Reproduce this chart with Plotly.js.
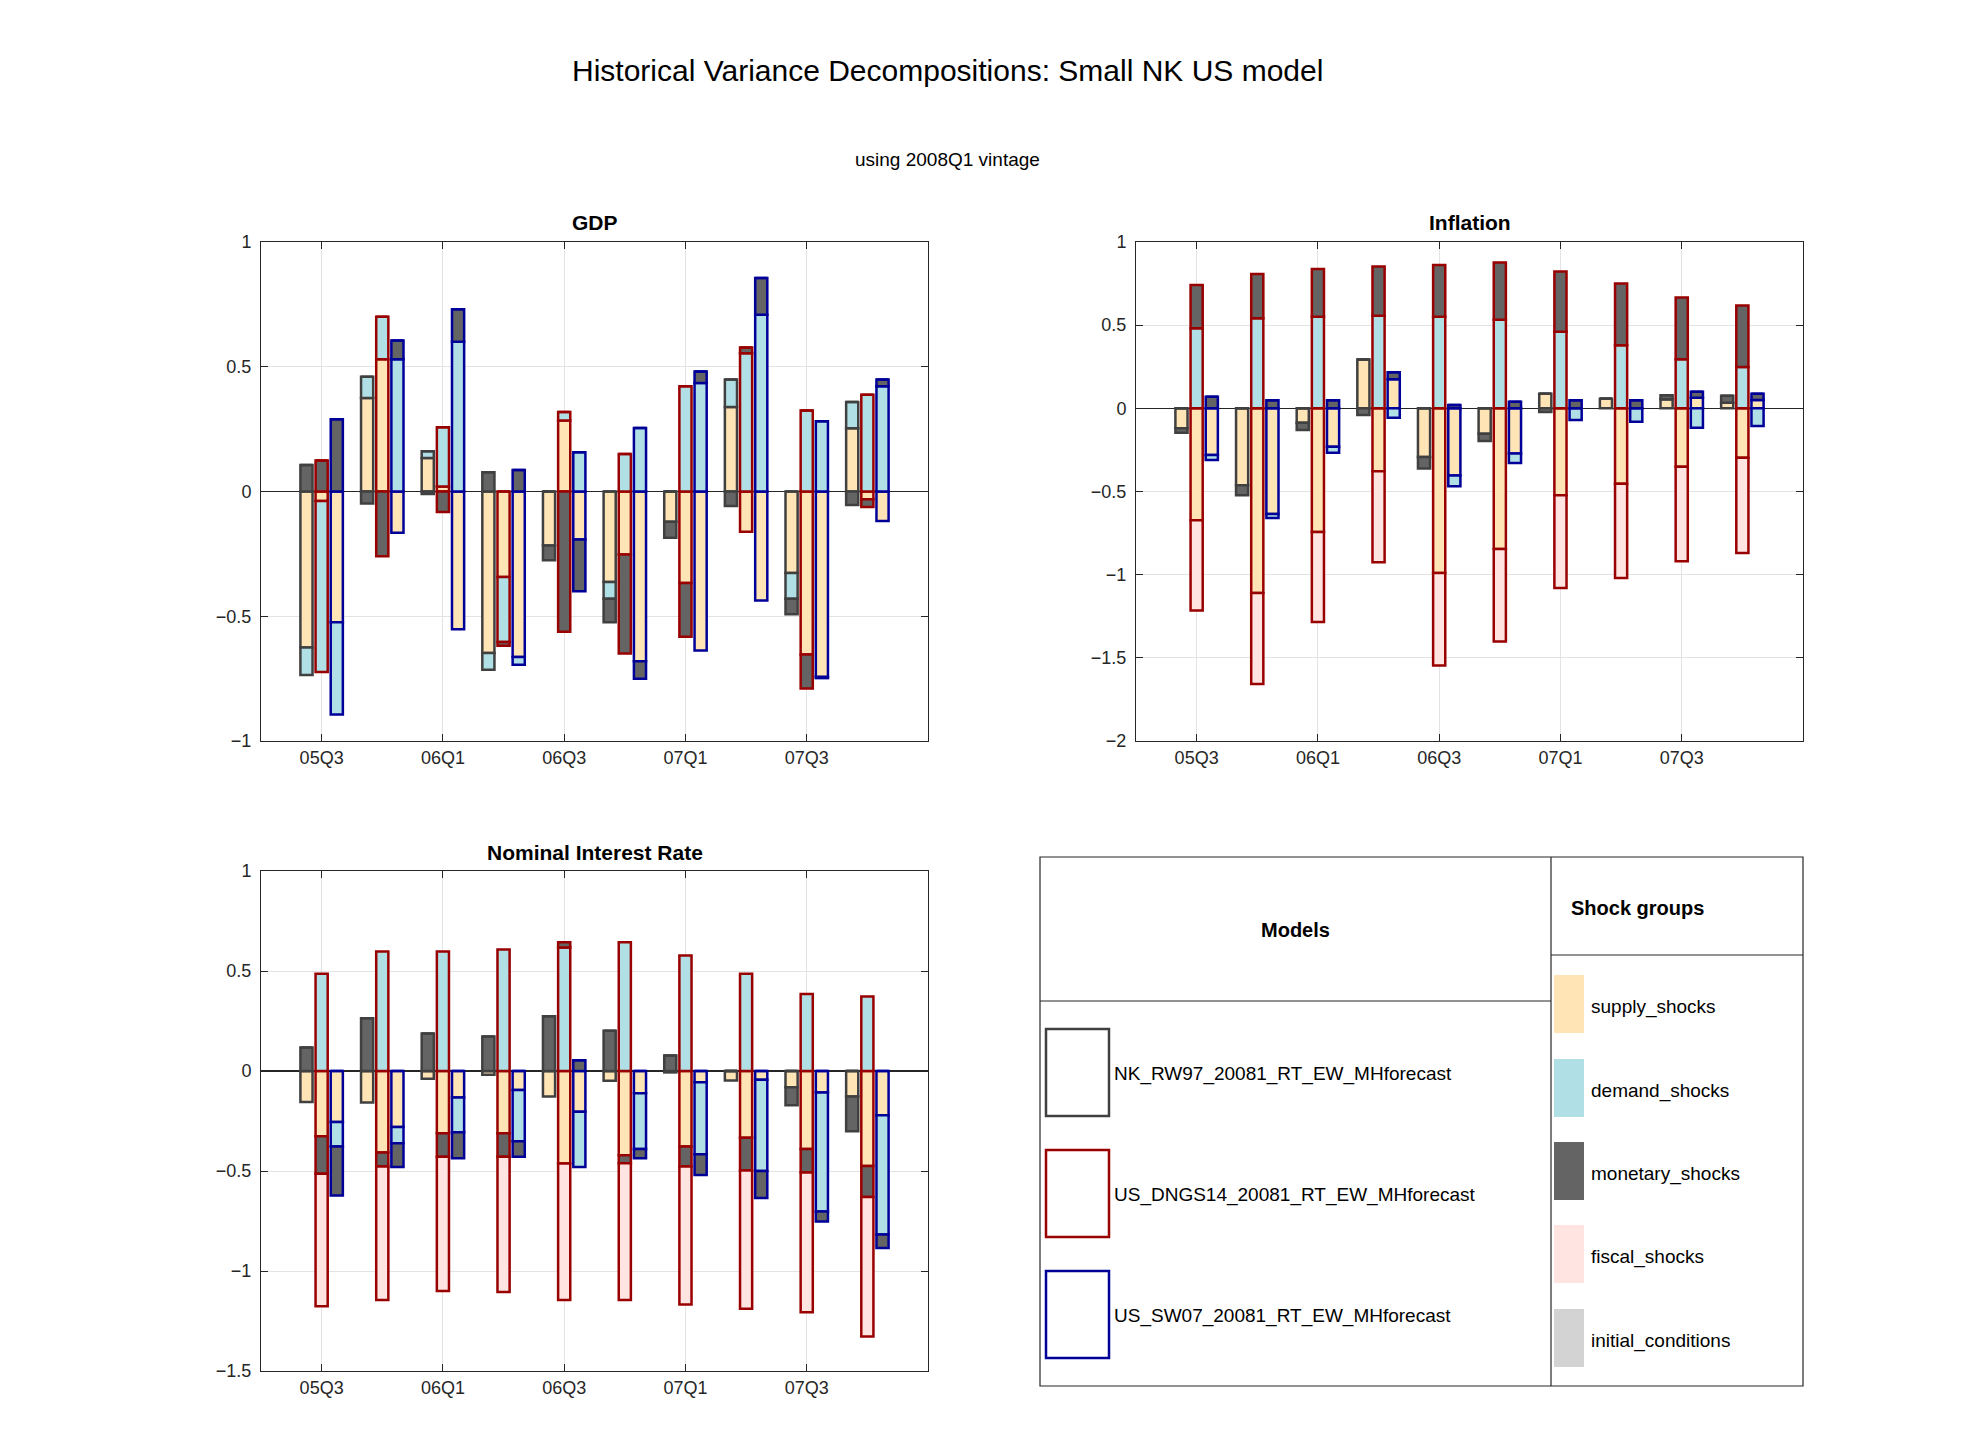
<!DOCTYPE html>
<html>
<head>
<meta charset="utf-8">
<script src="https://cdn.plot.ly/plotly-3.0.1.min.js"></script>
<style>body{margin:0;background:#fff}#myDiv{width:1975px;height:1456px}</style>
</head>
<body>
<div id="myDiv"></div>
<script>
var periods = [1, 2, 3, 4, 5, 6, 7, 8, 9, 10];
var tickVals = [1, 3, 5, 7, 9];
var tickText = ['05Q3', '06Q1', '06Q3', '07Q1', '07Q3'];

var models = ['NK_RW97_20081_RT_EW_MHforecast', 'US_DNGS14_20081_RT_EW_MHforecast', 'US_SW07_20081_RT_EW_MHforecast'];
var shocks = ['supply_shocks', 'demand_shocks', 'monetary_shocks', 'fiscal_shocks', 'initial_conditions'];

// GDP: [model][shock][period]
var gdpNK_supply   = [-0.625, 0.375, 0.134, -0.647, -0.216, -0.363, -0.121, 0.339, -0.327, 0.254];
var gdpNK_demand   = [-0.11, 0.085, 0.027, -0.067, 0, -0.067, 0, 0.11, -0.103, 0.105];
var gdpNK_monetary = [0.106, -0.048, -0.01, 0.077, -0.06, -0.094, -0.064, -0.058, -0.062, -0.054];
var gdpDN_supply   = [-0.038, 0.53, 0.02, -0.343, 0.285, -0.253, -0.367, -0.161, -0.653, -0.031];
var gdpDN_demand   = [-0.685, 0.17, 0.238, -0.26, 0.034, 0.15, 0.422, 0.554, 0.325, 0.388];
var gdpDN_monetary = [0.124, -0.26, -0.082, -0.015, -0.562, -0.396, -0.215, 0.023, -0.137, -0.031];
var gdpSW_supply   = [-0.524, -0.165, -0.552, -0.663, -0.192, -0.68, -0.637, -0.437, -0.743, -0.118];
var gdpSW_demand   = [-0.37, 0.53, 0.60, -0.031, 0.157, 0.255, 0.435, 0.708, 0.282, 0.422];
var gdpSW_monetary = [0.29, 0.075, 0.13, 0.086, -0.208, -0.07, 0.046, 0.148, -0.005, 0.027];

// Inflation
var infNK_supply   = [-0.12, -0.462, -0.086, 0.293, -0.293, -0.153, 0.088, 0.058, 0.054, 0.034];
var infNK_demand   = [0, 0, 0, 0, 0, 0, 0, 0, 0, 0];
var infNK_monetary = [-0.027, -0.06, -0.044, -0.04, -0.068, -0.044, -0.022, 0, 0.024, 0.042];
var infDN_supply   = [-0.673, -1.11, -0.743, -0.378, -0.99, -0.845, -0.522, -0.454, -0.351, -0.297];
var infDN_demand   = [0.482, 0.542, 0.55, 0.556, 0.55, 0.532, 0.46, 0.38, 0.295, 0.249];
var infDN_monetary = [0.259, 0.265, 0.287, 0.297, 0.311, 0.345, 0.363, 0.371, 0.372, 0.369];
var infDN_fiscal   = [-0.542, -0.547, -0.542, -0.548, -0.556, -0.557, -0.558, -0.566, -0.569, -0.573];
var infSW_supply   = [-0.281, -0.635, -0.231, 0.175, -0.404, -0.271, 0, 0, 0.064, 0.05];
var infSW_demand   = [-0.03, -0.024, -0.036, -0.056, -0.064, -0.058, -0.07, -0.08, -0.116, -0.106];
var infSW_monetary = [0.07, 0.048, 0.048, 0.042, 0.02, 0.04, 0.048, 0.048, 0.036, 0.038];

// Nominal interest rate
var intNK_supply   = [-0.155, -0.157, -0.039, -0.019, -0.128, -0.049, -0.007, -0.047, -0.081, -0.128];
var intNK_monetary = [0.117, 0.264, 0.188, 0.172, 0.274, 0.201, 0.078, 0, -0.09, -0.173];
var intDN_supply   = [-0.326, -0.407, -0.311, -0.311, -0.463, -0.421, -0.377, -0.334, -0.39, -0.475];
var intDN_demand   = [0.486, 0.598, 0.598, 0.608, 0.618, 0.644, 0.578, 0.486, 0.385, 0.373];
var intDN_monetary = [-0.188, -0.071, -0.118, -0.118, 0.026, -0.04, -0.101, -0.163, -0.118, -0.155];
var intDN_fiscal   = [-0.662, -0.667, -0.671, -0.676, -0.682, -0.684, -0.689, -0.692, -0.698, -0.698];
var intSW_supply   = [-0.255, -0.28, -0.133, -0.095, -0.204, -0.111, -0.056, -0.044, -0.108, -0.221];
var intSW_demand   = [-0.122, -0.081, -0.173, -0.256, -0.276, -0.279, -0.36, -0.456, -0.595, -0.597];
var intSW_monetary = [-0.245, -0.119, -0.13, -0.078, 0.054, -0.046, -0.104, -0.135, -0.05, -0.067];

var zeros = [0, 0, 0, 0, 0, 0, 0, 0, 0, 0];

var shockFill = ['#FFE4B5', '#B0E0E6', '#646464', '#FFE4E1', '#D3D3D3'];
var modelLine = ['#404040', '#990000', '#000099'];
var modelOffset = [-0.25, 0, 0.25];

var panels = [
	{ax: '', data: [
		[gdpNK_supply, gdpNK_demand, gdpNK_monetary, zeros],
		[gdpDN_supply, gdpDN_demand, gdpDN_monetary, zeros],
		[gdpSW_supply, gdpSW_demand, gdpSW_monetary, zeros]]},
	{ax: '2', data: [
		[infNK_supply, infNK_demand, infNK_monetary, zeros],
		[infDN_supply, infDN_demand, infDN_monetary, infDN_fiscal],
		[infSW_supply, infSW_demand, infSW_monetary, zeros]]},
	{ax: '3', data: [
		[intNK_supply, zeros, intNK_monetary, zeros],
		[intDN_supply, intDN_demand, intDN_monetary, intDN_fiscal],
		[intSW_supply, intSW_demand, intSW_monetary, zeros]]}
];

var data = [];
panels.forEach(function (p) {
	p.data.forEach(function (series, m) {
		series.forEach(function (vals, s) {
			data.push({
				type: 'bar',
				x: periods.map(function (t) { return t + modelOffset[m]; }),
				y: vals,
				width: 0.2,
				xaxis: 'x' + p.ax, yaxis: 'y' + p.ax,
				marker: {color: shockFill[s], line: {color: modelLine[m], width: 2.5}},
				showlegend: false, hoverinfo: 'skip'
			});
		});
	});
});

var W = 1975, H = 1456;
function px(x) { return x / W; }
function py(y) { return 1 - y / H; }

function xax(dom) {
	return {domain: dom, range: [0, 11], tickvals: tickVals, ticktext: tickText,
		ticks: 'inside', ticklen: 7, tickcolor: '#262626', showgrid: true, gridcolor: '#e3e3e3',
		showline: true, linecolor: '#262626', mirror: 'ticks', zeroline: false,
		tickfont: {size: 18, color: '#262626'}};
}
function yax(dom, rng, dt) {
	return {domain: dom, range: rng, dtick: dt, ticks: 'inside', ticklen: 7, tickcolor: '#262626',
		showgrid: true, gridcolor: '#e3e3e3', showline: true, linecolor: '#262626', mirror: 'ticks',
		zeroline: true, zerolinecolor: '#262626', zerolinewidth: 1.5,
		tickfont: {size: 18, color: '#262626'}, ticksuffix: ' '};
}

var shapes = [];
var annotations = [];
function box(x0, y0, x1, y1, fill, line, lw) {
	shapes.push({type: 'rect', xref: 'paper', yref: 'paper', x0: px(x0), x1: px(x1), y0: py(y1), y1: py(y0),
		fillcolor: fill, line: {color: line, width: lw}});
}
function hline(x0, x1, y) {
	shapes.push({type: 'line', xref: 'paper', yref: 'paper', x0: px(x0), x1: px(x1), y0: py(y), y1: py(y), line: {color: '#262626', width: 1.2}});
}
function vline(x, y0, y1) {
	shapes.push({type: 'line', xref: 'paper', yref: 'paper', x0: px(x), x1: px(x), y0: py(y0), y1: py(y1), line: {color: '#262626', width: 1.2}});
}
function text(x, y, t, size, bold, anchor) {
	annotations.push({xref: 'paper', yref: 'paper', x: px(x), y: py(y), text: bold ? '<b>' + t + '</b>' : t,
		showarrow: false, xanchor: anchor || 'center', yanchor: 'middle', font: {size: size, color: '#000'}});
}

// legend table
box(1040, 857, 1803, 1386, 'rgba(0,0,0,0)', '#262626', 1.2);
vline(1551, 857, 1386);
hline(1040, 1551, 1001);
hline(1551, 1803, 955);
text(1295, 930, 'Models', 20, true);
text(1569, 908, 'Shock groups', 20, true, 'left');
var modelY = [1029, 1150, 1271];
models.forEach(function (m, i) {
	box(1046, modelY[i], 1109, modelY[i] + 87, 'rgba(0,0,0,0)', modelLine[i], 2.5);
	text(1112, modelY[i] + 45, m, 19, false, 'left');
});
var shockY = [975, 1059, 1142, 1225, 1309];
shocks.forEach(function (s, i) {
	box(1554, shockY[i], 1584, shockY[i] + 58, shockFill[i], shockFill[i], 0);
	text(1589, shockY[i] + 32, s, 19, false, 'left');
});

text(947, 70, 'Historical Variance Decompositions: Small NK US model', 30, false);
text(947, 159, 'using 2008Q1 vintage', 19, false);
text(595, 222, 'GDP', 21, true);
text(1470, 222, 'Inflation', 21, true);
text(595, 852, 'Nominal Interest Rate', 21, true);

var layout = {
	width: W, height: H,
	margin: {l: 0, r: 0, t: 0, b: 0},
	paper_bgcolor: '#fff', plot_bgcolor: '#fff',
	font: {family: 'Liberation Sans, Arial, sans-serif', color: '#262626'},
	barmode: 'relative',
	xaxis: xax([px(261), px(928)]),
	yaxis: yax([py(741), py(242)], [-1, 1], 0.5),
	xaxis2: xax([px(1136), px(1803)]),
	yaxis2: yax([py(741), py(242)], [-2, 1], 0.5),
	xaxis3: xax([px(261), px(928)]),
	yaxis3: yax([py(1371), py(871)], [-1.5, 1], 0.5),
	shapes: shapes,
	annotations: annotations
};
layout.xaxis2.anchor = 'y2'; layout.yaxis2.anchor = 'x2';
layout.xaxis3.anchor = 'y3'; layout.yaxis3.anchor = 'x3';

Plotly.newPlot('myDiv', data, layout, {staticPlot: true});
</script>
</body>
</html>
